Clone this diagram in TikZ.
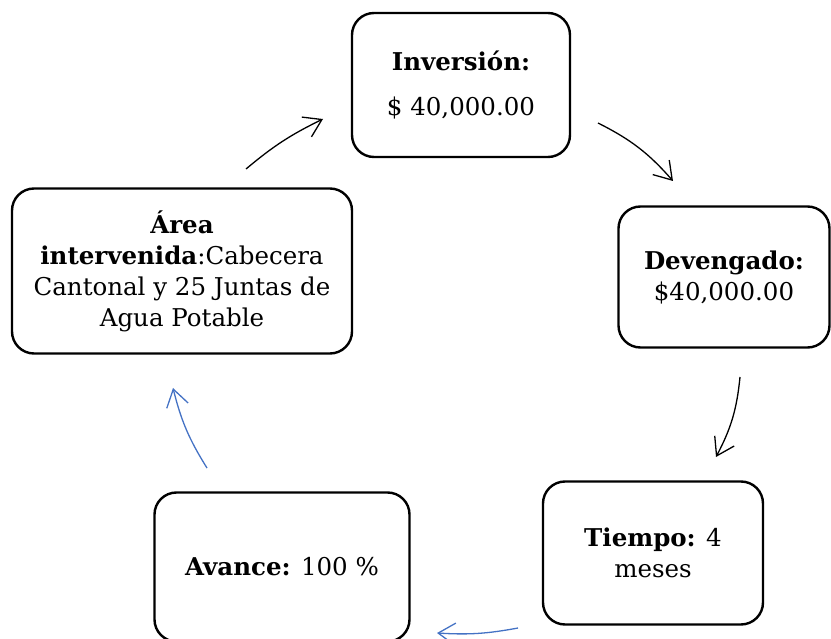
\documentclass[tikz,border=0pt]{standalone}
\usepackage{fontspec}
\setmainfont{DejaVu Serif}
\usepackage{tikz}
\usetikzlibrary{arrows.meta,positioning}
\definecolor{flechaazul}{HTML}{4472C4}
\tikzset{
  >={Straight Barb[length=17pt,width=22pt]},
  % cajas
  caja/.style={draw=black,line width=2.4pt,rounded corners=22pt,align=center,
               inner sep=2pt,font=\fontsize{24.5}{31}\selectfont},
  % flechas
  fl/.style={->,draw=black,line width=1.3pt},
  fla/.style={->,draw=flechaazul,line width=1.3pt},
}

\begin{document}
\begin{tikzpicture}[x=1pt,y=1pt]
  \clip (0,0) rectangle (831,-639);
  \node[caja,minimum width=218pt,minimum height=144pt] (inv) at (461,-85)
    {\textbf{Inversión:}\\[14pt]\$ 40,000.00};
  \node[caja,minimum width=211pt,minimum height=141pt] (dev) at (724,-277)
    {\textbf{Devengado:}\\\$40,000.00};
  \node[caja,minimum width=220pt,minimum height=143pt] (tie) at (653,-553)
    {\textbf{Tiempo:} 4\\meses};
  \node[caja,minimum width=255pt,minimum height=149pt] (ava) at (282,-567)
    {\textbf{Avance:} 100 \%};
  \node[caja,minimum width=340pt,minimum height=165pt] (area) at (182,-271)
    {\textbf{Área}\\\textbf{intervenida}:Cabecera\\Cantonal y 25 Juntas de\\Agua Potable};
  \coordinate (f1i) at (246,-169);
  \coordinate (f1f) at (323,-119);
  \coordinate (f2i) at (598,-123);
  \coordinate (f2f) at (673,-181);
  \coordinate (f3i) at (740,-377);
  \coordinate (f3f) at (716,-457);
  \coordinate (f4i) at (518,-628);
  \coordinate (f4f) at (437,-633);
  \coordinate (f5i) at (207,-468);
  \coordinate (f5f) at (173,-388);
  \draw[fl] (f1i) to[bend left=7] (f1f);
  \draw[fl] (f2i) to[bend left=11] (f2f);
  \draw[fl] (f3i) to[bend left=11] (f3f);
  \draw[fla] (f4i) to[bend left=7] (f4f);
  \draw[fla] (f5i) to[bend left=9] (f5f);
\end{tikzpicture}
\end{document}
